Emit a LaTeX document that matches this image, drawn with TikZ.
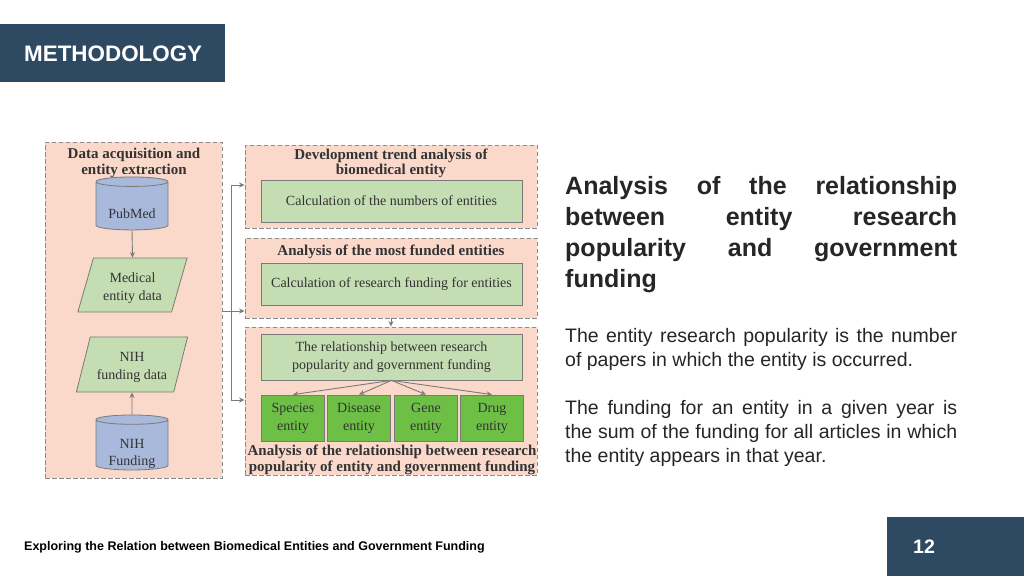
\documentclass[tikz,border=0pt]{standalone}
\usepackage{fontspec}
\setmainfont{Liberation Serif}
\newfontfamily\arialfont{Liberation Sans}
\usetikzlibrary{shapes.geometric,arrows.meta}
\definecolor{navy}{HTML}{2E4A62}
\definecolor{peach}{HTML}{FAD9CB}
\definecolor{dashgray}{HTML}{8C8C8C}
\definecolor{lgreen}{HTML}{C5DDB2}
\definecolor{dgreen}{HTML}{6DBF46}
\definecolor{cylblue}{HTML}{A8B9DC}
\definecolor{edgegray}{HTML}{7A7A7A}
\definecolor{txt}{HTML}{262626}
\definecolor{dtxt}{HTML}{333333}
\newcommand\lowtext[2]{\raisebox{-#1}[\height][\depth]{\begin{tabular}{@{}c@{}}#2\end{tabular}}}
\begin{document}
\begin{tikzpicture}[x=1pt,y=-1pt,
  panel/.style={draw=dashgray, dashed, dash pattern=on 4.5pt off 2.5pt, fill=peach, line width=0.9pt, inner sep=0pt},
  ptitle/.style={font=\fontsize{15}{15.5}\selectfont\bfseries, text=dtxt, align=center, inner sep=0pt},
  calc/.style={draw=edgegray, fill=lgreen, line width=0.8pt, font=\fontsize{14}{18}\selectfont, text=dtxt, align=center, inner sep=0pt},
  ent/.style={draw=edgegray, fill=dgreen, line width=0.8pt, font=\fontsize{14}{18}\selectfont, text=dtxt, align=center, inner sep=0pt, minimum width=63pt, minimum height=46pt},
  db/.style={cylinder, shape border rotate=90, aspect=0.2, draw=edgegray, fill=cylblue, line width=0.8pt, font=\fontsize{14}{17}\selectfont, text=dtxt, align=center, inner sep=0pt, minimum width=72pt},
  io/.style={trapezium, trapezium left angle=72, trapezium right angle=108, trapezium stretches=true, draw=edgegray, fill=lgreen, line width=0.8pt, font=\fontsize{14}{18}\selectfont, text=dtxt, align=center, inner sep=0pt},
  arr/.style={draw=edgegray, line width=0.9pt, -{Stealth[length=5.5pt,width=5pt]}},
  conn/.style={draw=edgegray, line width=0.9pt}
]
\useasboundingbox (0,0) rectangle (1024,576);
\fill[white] (0,0) rectangle (1024,576);

% header
\node[fill=navy, minimum width=225pt, minimum height=58pt, inner sep=0pt, anchor=north west] (hdr) at (0,24) {};
\node[font=\arialfont\fontsize{22.4}{24}\selectfont\bfseries, text=white, anchor=west, inner sep=0pt] (hdrtxt) at (24,54) {METHODOLOGY};

% left panel
\node[panel, minimum width=177pt, minimum height=336pt] (left) at (133.5,310) {};
\node[ptitle] (lefttitle) at (134,163) {Data acquisition and\\entity extraction};
\node[db, minimum height=53pt] (pubmed) at (132,206) {\lowtext{9pt}{PubMed}};
\node[io, minimum width=110pt, minimum height=54pt] (medical) at (132.5,285) {\lowtext{3pt}{Medical\\entity data}};
\node[io, minimum width=112pt, minimum height=55pt] (nihdata) at (132,364.5) {\lowtext{2.5pt}{NIH\\funding data}};
\node[db, minimum height=55pt] (nihfund) at (132,445) {\lowtext{9pt}{NIH\\Funding}};
\draw[arr] (pubmed.south) -- (medical.north);
\draw[arr] (nihfund.north) -- (nihdata.south);

% right panels
\node[panel, minimum width=292pt, minimum height=83pt] (box1) at (391,186.5) {};
\node[ptitle] (t1) at (391,163.5) {Development trend analysis of\\biomedical entity};
\node[calc, minimum width=261pt, minimum height=42pt] (in1) at (391.5,201) {Calculation of the numbers of entities};

\node[panel, minimum width=292pt, minimum height=80pt] (box2) at (391,278) {};
\node[ptitle] (t2) at (391,252) {Analysis of the most funded entities};
\node[calc, minimum width=261pt, minimum height=42pt] (in2) at (391.5,284) {Calculation of research funding for entities};

\node[panel, minimum width=292pt, minimum height=148pt] (box3) at (391,401) {};
\node[calc, minimum width=261pt, minimum height=46pt] (in3) at (391.5,357) {The relationship between research\\popularity and government funding};
\node[ent] (sp) at (293,418) {Species\\entity};
\node[ent] (di) at (359,418) {Disease\\entity};
\node[ent] (ge) at (426,418) {Gene\\entity};
\node[ent] (dr) at (492,418) {Drug\\entity};
\node[ptitle] (t3) at (392,460) {Analysis of the relationship between research\\popularity of entity and government funding};

\draw[arr] (in3.south) -- (sp.north);
\draw[arr] (in3.south) -- (di.north);
\draw[arr] (in3.south) -- (ge.north);
\draw[arr] (in3.south) -- (dr.north);
\draw[arr] (box2.south) -- (box3.north);

% connectors from left panel
\coordinate (j) at (231,311);
\coordinate (ja) at (231,185);
\coordinate (jb) at (231,400);
\draw[arr] (left.east |- j) -- (box2.west |- j);
\draw[conn] (ja) -- (jb);
\draw[arr] (ja) -- (box1.west |- ja);
\draw[arr] (jb) -- (box3.west |- jb);

% right text
\node[anchor=north west, text width=392pt, align=justify, inner sep=0pt, font=\arialfont\fontsize{25}{31}\selectfont\bfseries, text=txt] (head) at (565,176)
 {Analysis of the relationship\linebreak between entity research\linebreak popularity and government\linebreak funding};
\node[anchor=north west, text width=392pt, align=justify, inner sep=0pt, font=\arialfont\fontsize{19.5}{24}\selectfont, text=txt] (p1) at (565,328)
 {The entity research popularity is the number\linebreak of papers in which the entity is occurred.};
\node[anchor=north west, text width=392pt, align=justify, inner sep=0pt, font=\arialfont\fontsize{19.5}{24}\selectfont, text=txt] (p2) at (565,400)
 {The funding for an entity in a given year is\linebreak the sum of the funding for all articles in which\linebreak the entity appears in that year.};

% footer
\node[anchor=west, inner sep=0pt, font=\arialfont\fontsize{12.5}{14}\selectfont\bfseries, text=black] (foot) at (24,547) {Exploring the Relation between Biomedical Entities and Government Funding};
\node[fill=navy, minimum width=137pt, minimum height=59pt, inner sep=0pt, anchor=north west] (pg) at (887,517) {};
\node[font=\arialfont\fontsize{19.5}{20}\selectfont\bfseries, text=white, inner sep=0pt] (pgnum) at (924,547) {12};
\end{tikzpicture}
\end{document}
